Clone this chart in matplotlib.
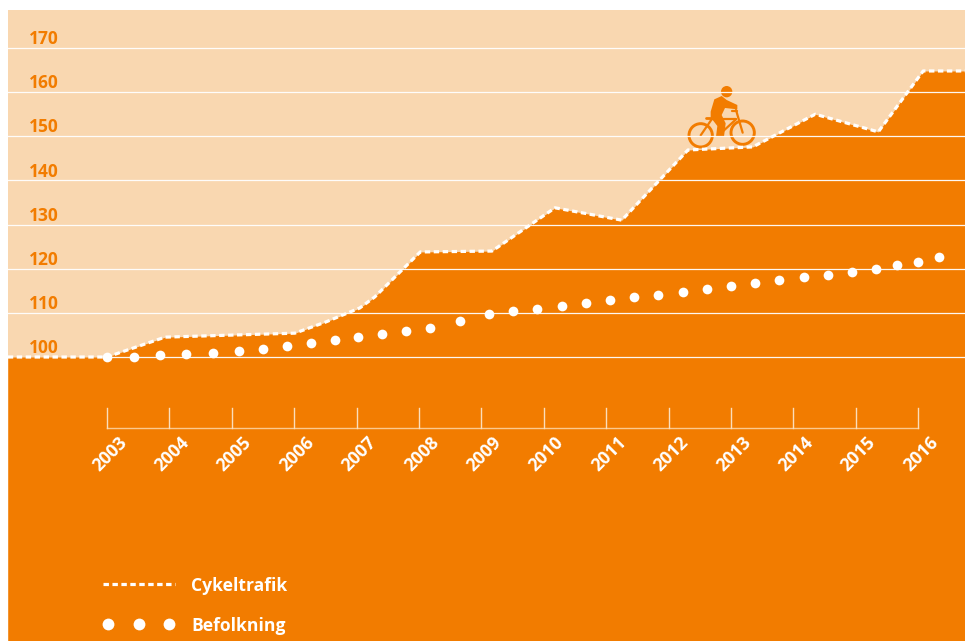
import matplotlib
matplotlib.use('Agg')
import matplotlib.pyplot as plt
from matplotlib.patches import Circle, Polygon
from matplotlib.lines import Line2D
from matplotlib.transforms import Affine2D

# ============================================================
# Data (index, 2003 = 100)
# ============================================================
years = list(range(2003, 2017))
grid_values = [100, 110, 120, 130, 140, 150, 160, 170]

cycle_x = [2001.41, 2003.0, 2003.93, 2006.01, 2006.5, 2007.05, 2007.29, 2008.02,
           2009.17, 2010.18, 2011.25, 2012.31, 2013.35, 2014.35, 2015.36, 2016.08, 2016.75]
cycle_y = [100, 100, 104.5, 105.4, 107.9, 111.1, 113.6, 123.8,
           124, 133.8, 131, 146.9, 147.6, 155, 151, 164.8, 164.8]

pop_x = [2003.00, 2003.43, 2003.85, 2004.26, 2004.70, 2005.11, 2005.50, 2005.88, 2006.27,
         2006.65, 2007.02, 2007.40, 2007.79, 2008.17, 2008.65, 2009.12, 2009.50, 2009.89,
         2010.29, 2010.67, 2011.06, 2011.44, 2011.83, 2012.23, 2012.61, 2013.00, 2013.38,
         2013.77, 2014.17, 2014.55, 2014.94, 2015.32, 2015.66, 2016.00, 2016.33]
pop_y = [100, 100, 100.5, 100.7, 100.9, 101.4, 101.8, 102.5, 103.2, 103.9, 104.5, 105.2,
         105.9, 106.6, 108.2, 109.7, 110.4, 110.9, 111.6, 112.3, 113, 113.6, 114.1, 114.8,
         115.5, 116.1, 116.8, 117.5, 118.2, 118.6, 119.3, 120, 120.9, 121.6, 122.7]

legend_labels = ['Cykeltrafik', 'Befolkning']

# ============================================================
# Style
# ============================================================
ORANGE = '#F27C00'
LIGHT = '#F9D7B0'
plt.rcParams['font.family'] = ['Open Sans', 'DejaVu Sans']

W, H = 965, 641
fig = plt.figure(figsize=(W / 100, H / 100), dpi=100)
L, R, T, B = 8, 965, 10, 641
ax = fig.add_axes([L / W, 1 - B / H, (R - L) / W, (B - T) / H])

# pixel <-> data scale of the original
PX_YEAR = 62.4
PX_VAL = 4.414
ax.set_xlim(2003 + (L - 107) / PX_YEAR, 2003 + (R - 107) / PX_YEAR)
ax.set_ylim(100 - (B - 357) / PX_VAL, 100 + (357 - T) / PX_VAL)
ax.set_facecolor(LIGHT)
for s in ax.spines.values():
    s.set_visible(False)
ax.set_xticks([])
ax.set_yticks([])

# area under the cycle line
ax.fill_between(cycle_x, cycle_y, ax.get_ylim()[0], color=ORANGE, lw=0, zorder=1)

# ---------- bike icon (pixels) ----------
px = Affine2D().scale(1 / 3, -1 / 3).translate(660, H - 60)
def add_seg(p1, p2, lw=1.6):
    ax.add_line(Line2D([p1[0], p2[0]], [p1[1], p2[1]], color=ORANGE, lw=lw, transform=px,
                       zorder=2, clip_on=False, solid_capstyle='round'))

ax.add_patch(Circle((122, 226), 35, fc='none', ec=ORANGE, lw=2.1, transform=px, zorder=2))
ax.add_patch(Circle((248, 218), 35, fc='none', ec=ORANGE, lw=2.1, transform=px, zorder=2))
ax.add_patch(Circle((200, 95), 17, fc=ORANGE, ec='none', transform=px, zorder=2))
ax.add_patch(Polygon([(152, 155), (163, 118), (185, 108), (200, 120), (232, 135), (232, 148),
                      (195, 144), (185, 165), (197, 190), (192, 230), (168, 230), (172, 198),
                      (152, 172)], fc=ORANGE, ec='none', transform=px, zorder=2))
add_seg((137, 173), (162, 173), lw=2)
add_seg((122, 226), (155, 178))
add_seg((155, 178), (228, 178))
add_seg((228, 150), (248, 218))
add_seg((215, 152), (232, 152))
add_seg((180, 222), (228, 178))

# ---------- grid ----------
for v in grid_values:
    x0 = 2003 if v == 100 else ax.get_xlim()[0]
    ax.plot([x0, ax.get_xlim()[1]], [v, v], color='white', lw=0.9, alpha=0.95, zorder=3)
    ax.text(2003 + (29 - 107) / PX_YEAR, v + 2.0, str(v), color=ORANGE, fontsize=12.5,
            fontweight='bold', va='center', ha='left', zorder=4)

# ---------- series ----------
ax.plot(cycle_x, cycle_y, color='white', lw=2.3, dashes=(1.7, 1.1), zorder=5,
        dash_capstyle='butt')
ax.plot(pop_x, pop_y, ls='none', marker='o', ms=7, mfc='white', mec='none', zorder=6)

# ---------- time axis drawn inside the area ----------
AXIS_Y = 100 - (428 - 357) / PX_VAL
TICK_Y = 100 - (408 - 357) / PX_VAL
ax.plot([years[0], years[-1]], [AXIS_Y, AXIS_Y], color='#FBC98F', lw=1, zorder=4)
for y in years:
    ax.plot([y, y], [AXIS_Y, TICK_Y], color='#FBDDBB', lw=1, zorder=4)
    ax.text(y + 0.17, AXIS_Y - 1.2, str(y), color='white', fontsize=12.8, fontweight='bold',
            rotation=45, rotation_mode='anchor', ha='right', va='top', zorder=4)

# ---------- legend ----------
lx = lambda p: 2003 + (p - 107) / PX_YEAR
ly = lambda p: 100 + (357 - p) / PX_VAL
ax.plot([lx(103), lx(175)], [ly(584), ly(584)], color='white', lw=2.3, dashes=(1.7, 1.1),
        dash_capstyle='butt', zorder=5)
ax.plot([lx(108), lx(139), lx(169)], [ly(624)] * 3, ls='none', marker='o', ms=8.5,
        mfc='white', mec='none', zorder=5)
ax.text(lx(191), ly(586), legend_labels[0], color='white', fontsize=12.6, fontweight='bold',
        va='center', ha='left')
ax.text(lx(191), ly(626), legend_labels[1], color='white', fontsize=12.6, fontweight='bold',
        va='center', ha='left')

plt.savefig('out.png', dpi=100)
